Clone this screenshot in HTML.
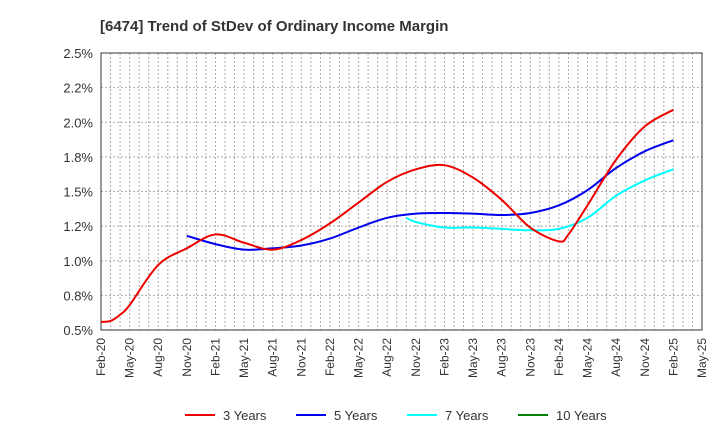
<!DOCTYPE html>
<html><head><meta charset="utf-8"><style>
body{margin:0;background:#fff;font-family:"Liberation Sans",Arial,sans-serif}
</style></head><body>
<svg id="c" width="720" height="440" xmlns="http://www.w3.org/2000/svg">
<text x="100" y="31" font-size="15" font-weight="bold" fill="#333">[6474]  Trend of StDev of Ordinary Income Margin</text>
<g id="grid"></g><g id="axes"></g><g id="series"></g><g id="legend"></g>
</svg>
<script>
const xLabels=["Feb-20","May-20","Aug-20","Nov-20","Feb-21","May-21","Aug-21","Nov-21","Feb-22","May-22","Aug-22","Nov-22","Feb-23","May-23","Aug-23","Nov-23","Feb-24","May-24","Aug-24","Nov-24","Feb-25","May-25"];
const yTicks=[0.5,0.75,1.0,1.25,1.5,1.75,2.0,2.25,2.5];
const yTickLabels=["0.5%","0.8%","1.0%","1.2%","1.5%","1.8%","2.0%","2.2%","2.5%"];
const red_m=[0,1,2,3,6,9,12,15,18,21,24,27,30,33,36,39,42,45,48,49,51,54,57,60];
const red_v=[0.558,0.565,0.61,0.68,0.97,1.09,1.19,1.13,1.08,1.15,1.27,1.42,1.57,1.66,1.69,1.60,1.44,1.24,1.14,1.19,1.40,1.73,1.97,2.09];
const blue_m=[9,12,15,18,21,24,27,30,33,36,39,42,45,48,51,54,57,60];
const blue_v=[1.18,1.12,1.08,1.09,1.11,1.16,1.24,1.31,1.34,1.345,1.34,1.33,1.345,1.40,1.51,1.67,1.79,1.87];
const cyan_m=[32,33,36,39,42,45,48,51,54,57,60];
const cyan_v=[1.31,1.28,1.24,1.24,1.23,1.22,1.23,1.31,1.47,1.58,1.66];
const green_m=[];const green_v=[];
const L=101,R=702,T=53,B=330,NM=63;
const X=m=>L+m*(R-L)/NM, Y=v=>B-(v-0.5)/2*(B-T);
const NS="http://www.w3.org/2000/svg";
function mk(t,a,p){const e=document.createElementNS(NS,t);for(const k in a)e.setAttribute(k,a[k]);p.appendChild(e);return e;}
const g=document.getElementById('grid');
for(let m=1;m<NM;m++){const l=mk('line',{x1:X(m),x2:X(m),y1:T,y2:B,stroke:'#aaa','stroke-dasharray':'2,2','stroke-width':1},g);

}
yTicks.forEach((v,i)=>{const l=mk('line',{x1:L,x2:R,y1:Y(v),y2:Y(v),stroke:'#aaa','stroke-dasharray':'2,2'},g);


const t=mk('text',{x:L-8,y:Y(v)+5,'text-anchor':'end','font-size':13,fill:'#333'},g);t.textContent=yTickLabels[i];

});
const ax=document.getElementById('axes');
const r=mk('rect',{x:L,y:T,width:R-L,height:B-T,fill:'none',stroke:'#333','stroke-width':1},ax);


xLabels.forEach((s,i)=>{const x=X(i*3);const t=mk('text',{x:x+4,y:B+8,'text-anchor':'end','font-size':12,fill:'#333',transform:`rotate(-90 ${x+4} ${B+8})`},ax);t.textContent=s;

});
function smooth(ms,vs){const p=ms.map((m,i)=>[X(m),Y(vs[i])]);if(!p.length)return '';let d=`M${p[0][0]},${p[0][1]}`;
for(let i=0;i<p.length-1;i++){const p0=p[i-1]||p[i],p1=p[i],p2=p[i+1],p3=p[i+2]||p2;
d+=` C${p1[0]+(p2[0]-p0[0])/6},${p1[1]+(p2[1]-p0[1])/6} ${p2[0]-(p3[0]-p1[0])/6},${p2[1]-(p3[1]-p1[1])/6} ${p2[0]},${p2[1]}`;}return d;}
const sg=document.getElementById('series');
[[cyan_m,cyan_v,'#00ffff','series-7-years'],[blue_m,blue_v,'#0000ee','series-5-years'],[red_m,red_v,'#ee0000','series-3-years'],[green_m,green_v,'#008000','series-10-years']].forEach(s=>{
const p=mk('path',{d:smooth(s[0],s[1]),fill:'none',stroke:s[2],'stroke-width':2},sg);

});
const lg=document.getElementById('legend');
[["3 Years",'#ee0000',185],["5 Years",'#0000ee',296],["7 Years",'#00ffff',407],["10 Years",'#008000',518]].forEach(e=>{
const gg=mk('g',{},lg);


mk('line',{x1:e[2],x2:e[2]+30,y1:415,y2:415,stroke:e[1],'stroke-width':2},gg);
const t=mk('text',{x:e[2]+38,y:420,'font-size':13,fill:'#333'},gg);t.textContent=e[0];});
</script>
</body></html>
